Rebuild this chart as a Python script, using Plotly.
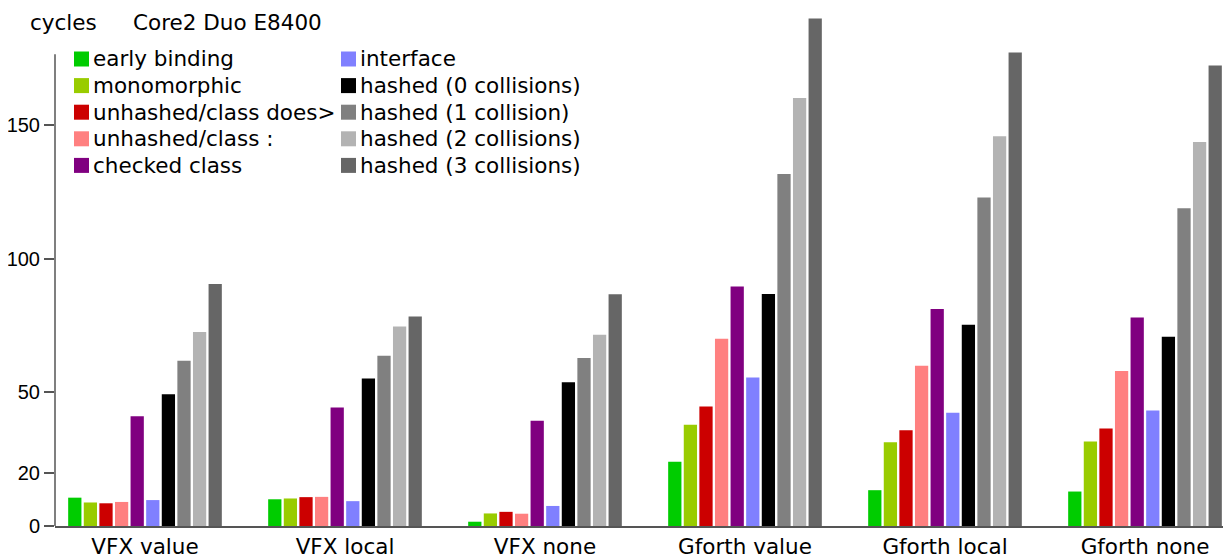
import plotly.graph_objects as go

categories = ["VFX value", "VFX local", "VFX none", "Gforth value", "Gforth local", "Gforth none"]

series_names = [
    "early binding", "monomorphic", "unhashed/class does>", "unhashed/class :", "checked class",
    "interface", "hashed (0 collisions)", "hashed (1 collision)", "hashed (2 collisions)", "hashed (3 collisions)",
]
colors = ["#00cc00", "#99cc00", "#cc0000", "#ff8080", "#800080",
          "#8080ff", "#000000", "#808080", "#b3b3b3", "#666666"]

early_binding = [10.6, 10.0, 1.6, 24.0, 13.4, 12.9]
monomorphic = [8.8, 10.3, 4.7, 37.9, 31.3, 31.6]
unhashed_does = [8.5, 10.8, 5.3, 44.7, 35.8, 36.5]
unhashed_colon = [9.0, 10.9, 4.6, 70.1, 60.0, 58.0]
checked_class = [41.1, 44.3, 39.4, 89.6, 81.2, 78.0]
interface = [9.7, 9.3, 7.5, 55.6, 42.4, 43.2]
hashed0 = [49.3, 55.2, 53.8, 86.8, 75.3, 70.8]
hashed1 = [61.8, 63.7, 62.9, 131.7, 122.9, 118.9]
hashed2 = [72.6, 74.7, 71.6, 160.2, 145.9, 143.7]
hashed3 = [90.6, 78.4, 86.7, 189.9, 177.2, 172.3]

series_values = [early_binding, monomorphic, unhashed_does, unhashed_colon, checked_class,
                 interface, hashed0, hashed1, hashed2, hashed3]

y_ticks = [0, 20, 50, 100, 150]

# page body has an 8px margin; figure fills the rest of the 1231x560 window
OFF = 8
W, H = 1231 - OFF, 560 - OFF
L, R, T, B = 55 - OFF, 0, 10 - OFF, 34
PW, PH = W - L - R, H - T - B
Y_MAX = 193.1
FONT = "DejaVu Sans"
TICK_FONT = "Liberation Sans"
FS = 21.5
AX = "#555555"


def xp(px):
    """page pixel x -> paper coordinate"""
    return (px - OFF - L) / PW


def yp(py):
    """page pixel y -> paper coordinate"""
    return (H - B - (py - OFF)) / PH


fig = go.Figure()
for name, vals, col in zip(series_names, series_values, colors):
    fig.add_trace(go.Bar(
        x=categories, y=vals, name=name,
        marker=dict(color=col, line=dict(width=0)),
        showlegend=False,
    ))

shapes = [
    dict(type="line", xref="paper", yref="y", x0=0, x1=0, y0=0, y1=176.5,
         line=dict(color=AX, width=1.5), layer="above"),
]
annotations = [
    dict(text="cycles", x=xp(28), y=yp(22), xref="paper", yref="paper",
         xanchor="left", yanchor="middle", showarrow=False,
         font=dict(family=FONT, size=FS, color="#000")),
    dict(text="Core2 Duo E8400", x=xp(131), y=yp(22), xref="paper", yref="paper",
         xanchor="left", yanchor="middle", showarrow=False,
         font=dict(family=FONT, size=FS, color="#000")),
]

# two-column legend
sq_left = [74, 341]
txt_left = [91, 358]
row0, pitch, sq = 59, 26.6, 15
for i, (name, col) in enumerate(zip(series_names, colors)):
    c, r = divmod(i, 5)
    cy = row0 + r * pitch
    shapes.append(dict(type="rect", xref="paper", yref="paper",
                       x0=xp(sq_left[c]), x1=xp(sq_left[c] + sq),
                       y0=yp(cy + sq / 2), y1=yp(cy - sq / 2),
                       fillcolor=col, line=dict(width=0)))
    annotations.append(dict(text=name, x=xp(txt_left[c]), y=yp(cy), xref="paper", yref="paper",
                            xanchor="left", yanchor="middle", showarrow=False,
                            font=dict(family=FONT, size=FS, color="#000")))

fig.update_layout(
    width=W, height=H,
    margin=dict(l=L, r=R, t=T, b=B, pad=0, autoexpand=False),
    paper_bgcolor="white", plot_bgcolor="white",
    barmode="group", bargap=0.22, bargroupgap=0.15,
    font=dict(family=FONT, size=FS, color="#000"),
    showlegend=False,
    shapes=shapes, annotations=annotations,
    xaxis=dict(range=[-0.45, 5.43], showline=True, linecolor=AX, linewidth=1.5,
               showgrid=False, zeroline=False, ticks="", automargin=False,
               tickfont=dict(size=FS, family=FONT)),
    yaxis=dict(range=[0, Y_MAX], tickvals=y_ticks, showline=False, showgrid=False,
               zeroline=False, ticks="outside", ticklen=10, tickwidth=1.5, tickcolor=AX,
               automargin=False, tickfont=dict(size=20, family=TICK_FONT)),
)

fig.write_html("out.html")
